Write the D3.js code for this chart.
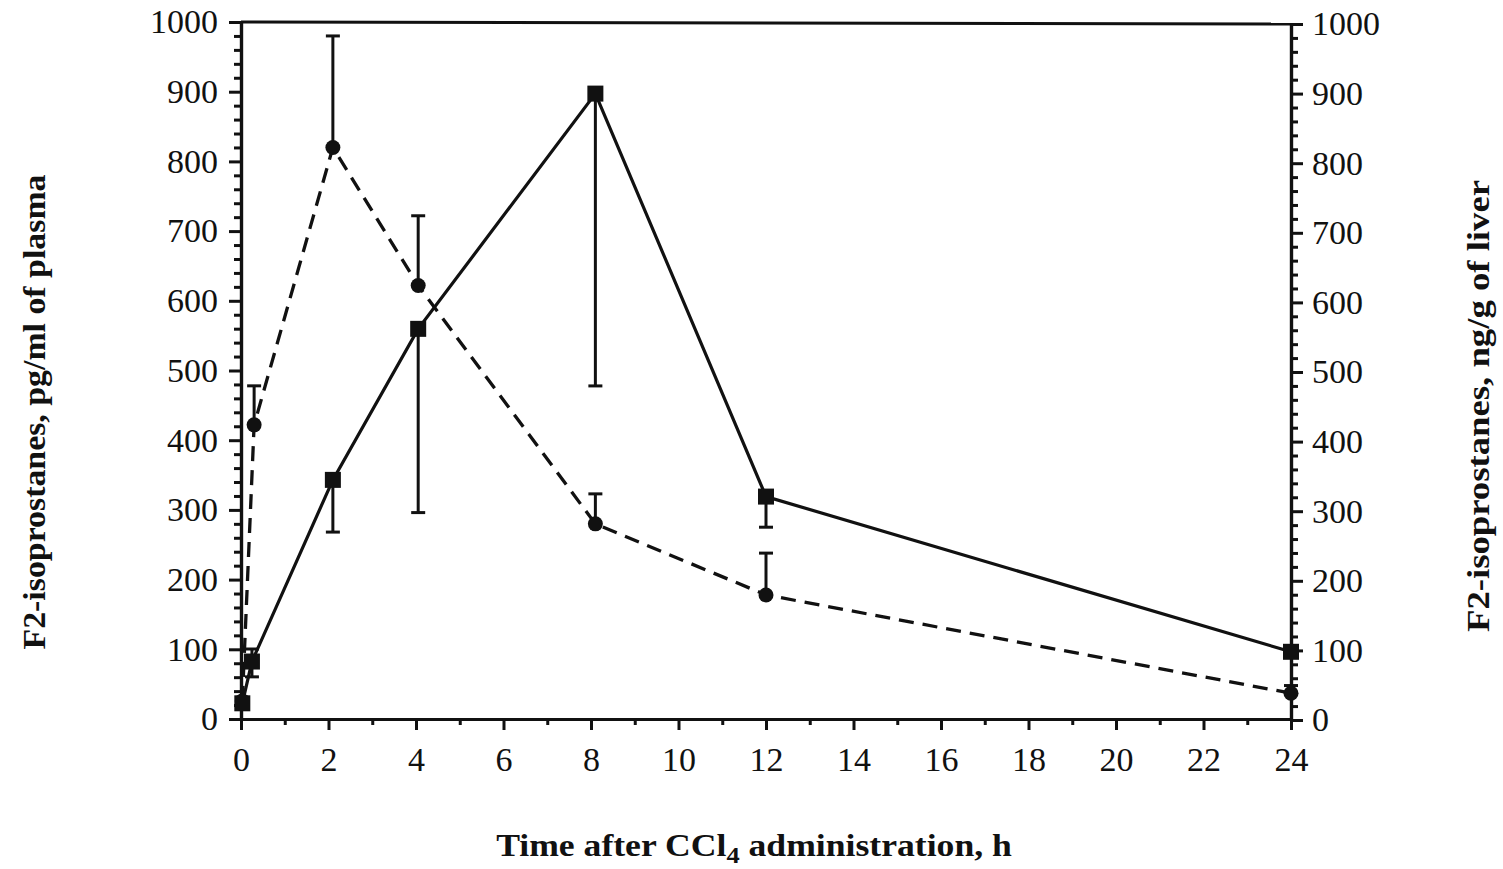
<!DOCTYPE html>
<html>
<head>
<meta charset="utf-8">
<title>F2-isoprostanes after CCl4</title>
<script src="https://d3js.org/d3.v7.min.js"></script>
<style>
body { margin: 0; background: white; }
text { font-family: "Liberation Serif", "Times New Roman", serif; fill: #111; }
.title { font-weight: bold; font-size: 31px; }
.tick text { font-size: 34px; }
</style>
</head>
<body>
<script>
// plasma (dashed, circles, left axis) - upper error bars
var plasmaTime = [0.03, 0.3, 2.1, 4.05, 8.1, 12, 24];
var plasmaVal  = [26, 422, 820, 622, 280, 178, 37];
var plasmaErr  = [null, 478, 980, 722, 323, 238, 48];

// liver (solid, squares, right axis) - lower error bars
var liverTime = [0.03, 0.25, 2.1, 4.05, 8.1, 12, 24];
var liverVal  = [24, 84, 345, 562, 900, 321, 98];
var liverErr  = [null, 62, 270, 298, 480, 277, 90];
var liverErrUp = [null, 102, null, null, null, null, null];

var xTicks = d3.range(0, 25, 2);
var xMinor = d3.range(1, 24, 2);
var yTicks = d3.range(0, 1001, 100);
var yMinor = d3.range(20, 1000, 20).filter(function(v){ return v % 100; });

var width = 1503, height = 869;
var mLeft = 241, mRight = 1291, mTop = 22, mBottom = 719;

var svg = d3.select("body").append("svg")
  .attr("width", width).attr("height", height);

var x = d3.scaleLinear().domain([0, 24]).range([mLeft, mRight]);
var yL = d3.scaleLinear().domain([0, 1000]).range([mBottom, mTop]);
var yR = d3.scaleLinear().domain([0, 1000]).range([mBottom + 1, mTop + 2]);

// frame top line
svg.append("line")
  .attr("x1", x(0)).attr("x2", x(24))
  .attr("y1", yL(1000)).attr("y2", yR(1000))
  .attr("stroke", "#111").attr("stroke-width", 3);

var fmt = d3.format("d");

// minor ticks, each in its own group
function minor(axis, scale, vals, size, tr) {
  svg.append("g").attr("transform", tr)
    .call(axis(scale).tickValues(vals).tickSize(size).tickFormat("").tickSizeOuter(0));
}
minor(d3.axisBottom, x, xMinor, 6, "translate(0," + mBottom + ")");
minor(d3.axisLeft, yL, yMinor, 7, "translate(" + mLeft + ",0)");
minor(d3.axisRight, yR, yMinor, 7, "translate(" + mRight + ",0)");

var gx = svg.append("g").attr("transform", "translate(0," + mBottom + ")")
  .call(d3.axisBottom(x).tickValues(xTicks).tickFormat(fmt).tickSize(11).tickPadding(12).tickSizeOuter(0));
var gl = svg.append("g").attr("transform", "translate(" + mLeft + ",0)")
  .call(d3.axisLeft(yL).tickValues(yTicks).tickFormat(fmt).tickSize(12).tickPadding(11).tickSizeOuter(0));
var gr = svg.append("g").attr("transform", "translate(" + mRight + ",0)")
  .call(d3.axisRight(yR).tickValues(yTicks).tickFormat(fmt).tickSize(12).tickPadding(9).tickSizeOuter(0));

svg.selectAll(".domain").attr("stroke", "#111").attr("stroke-width", 3.2);
svg.selectAll(".tick line").attr("stroke", "#111").attr("stroke-width", 3);
svg.selectAll(".tick text").attr("fill", "#111").attr("font-size", null);
gx.selectAll(".tick text").attr("dy", "0.85em");

// data tables
var plasma = plasmaTime.map(function(t, i){ return {t: t, v: plasmaVal[i], e: plasmaErr[i]}; });
var liver = liverTime.map(function(t, i){ return {t: t, v: liverVal[i], e: liverErr[i], u: liverErrUp[i]}; });

// error bars
function errBars(data, scale, key) {
  var g = svg.append("g");
  var d = data.filter(function(p){ return p[key] != null; });
  g.selectAll("line.v").data(d).enter().append("line")
    .attr("x1", function(p){ return x(p.t); }).attr("x2", function(p){ return x(p.t); })
    .attr("y1", function(p){ return scale(p.v); }).attr("y2", function(p){ return scale(p[key]); })
    .attr("stroke", "#111").attr("stroke-width", 3);
  g.selectAll("line.c").data(d).enter().append("line")
    .attr("x1", function(p){ return x(p.t) - 7; }).attr("x2", function(p){ return x(p.t) + 7; })
    .attr("y1", function(p){ return scale(p[key]); }).attr("y2", function(p){ return scale(p[key]); })
    .attr("stroke", "#111").attr("stroke-width", 3);
}
errBars(plasma, yL, "e");
errBars(liver, yR, "e");
errBars(liver, yR, "u");

// lines
var lineL = d3.line().x(function(p){ return x(p.t); }).y(function(p){ return yL(p.v); });
var lineR = d3.line().x(function(p){ return x(p.t); }).y(function(p){ return yR(p.v); });

svg.append("path").datum(plasma).attr("d", lineL)
  .attr("fill", "none").attr("stroke", "#111").attr("stroke-width", 3.3)
  .attr("stroke-dasharray", "15,9");
svg.append("path").datum(liver).attr("d", lineR)
  .attr("fill", "none").attr("stroke", "#111").attr("stroke-width", 3.2);

// markers
svg.selectAll("circle.pl").data(plasma).enter().append("circle")
  .attr("cx", function(p){ return x(p.t); }).attr("cy", function(p){ return yL(p.v); })
  .attr("r", 7.5).attr("fill", "#111");
svg.selectAll("rect.lv").data(liver).enter().append("rect")
  .attr("x", function(p){ return x(p.t) - 8; }).attr("y", function(p){ return yR(p.v) - 8; })
  .attr("width", 16).attr("height", 16).attr("fill", "#111");

// axis titles
svg.append("text").attr("class", "title")
  .attr("transform", "translate(45,412) rotate(-90)")
  .attr("text-anchor", "middle")
  .attr("textLength", 475).attr("lengthAdjust", "spacingAndGlyphs")
  .text("F2-isoprostanes, pg/ml of plasma");
svg.append("text").attr("class", "title")
  .attr("transform", "translate(1489,406) rotate(-90)")
  .attr("text-anchor", "middle")
  .attr("textLength", 452).attr("lengthAdjust", "spacingAndGlyphs")
  .text("F2-isoprostanes, ng/g of liver");

var xt = svg.append("text").attr("class", "title")
  .attr("transform", "translate(754,856) scale(1.15,1)")
  .attr("text-anchor", "middle");
xt.append("tspan").text("Time after CCl");
xt.append("tspan").attr("dy", 7).attr("font-size", 23).text("4");
xt.append("tspan").attr("dy", -7).text(" administration, h");
</script>
</body>
</html>
